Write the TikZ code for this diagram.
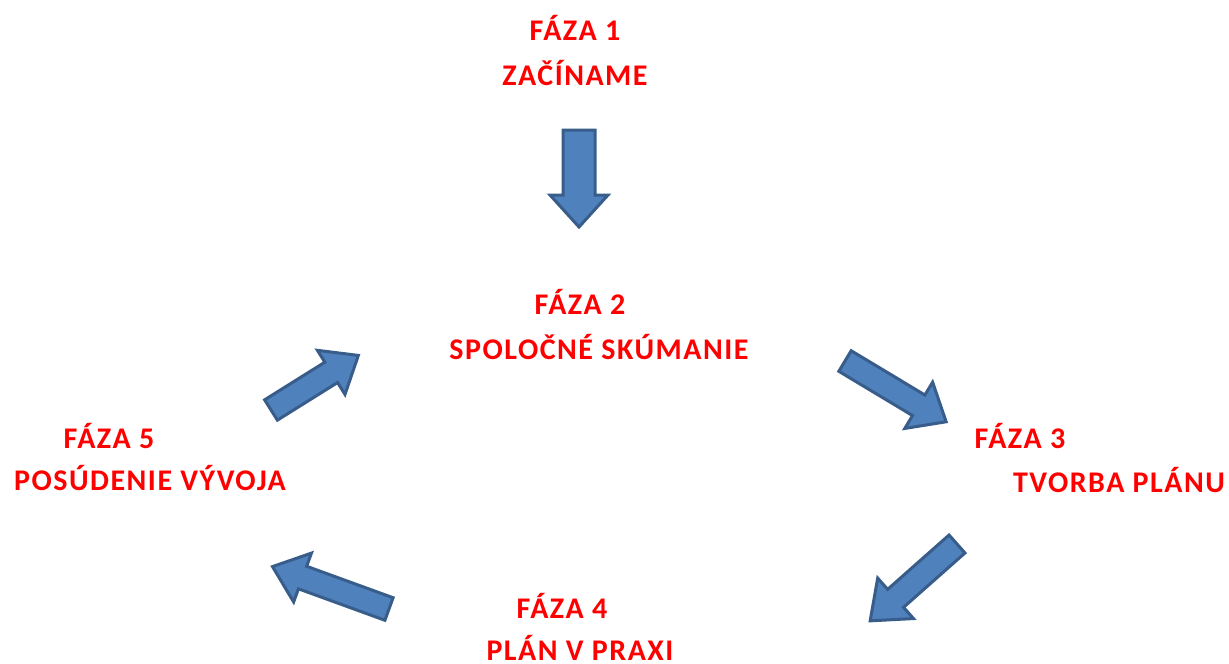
\documentclass[tikz,border=0pt]{standalone}
\usepackage{fontspec}
\setmainfont{Carlito}[LetterSpace=5]
\definecolor{arrowfill}{RGB}{79,129,189}
\definecolor{arrowline}{RGB}{56,93,138}
\definecolor{phasered}{RGB}{255,0,0}
\tikzset{
  phasetext/.style={text=phasered, font=\fontsize{30}{36}\selectfont\bfseries, inner sep=0pt, anchor=center},
  blockarrow/.style={fill=arrowfill, draw=arrowline, line width=3pt, line join=miter}
}
% #1 tail centre, #2 angle, #3 length, #4 shaft half width, #5 head half width, #6 head length, #7 name
\newcommand{\myblockarrow}[7]{%
  \begin{scope}[shift={#1}, rotate=#2]
    \draw[blockarrow] (0,-#4) -- ({#3-#6},-#4) -- ({#3-#6},-#5) -- (#3,0) -- ({#3-#6},#5) -- ({#3-#6},#4) -- (0,#4) -- cycle;
    \coordinate (#7) at (#3,0);
  \end{scope}}
\begin{document}
\begin{tikzpicture}[x=1pt,y=-1pt]
\useasboundingbox (0,0) rectangle (1229,664);
\node[phasetext] (f1a) at (575,28) {FÁZA 1};
\node[phasetext] (f1b) at (575,73) {ZAČÍNAME};
\node[phasetext] (f2a) at (580,302) {FÁZA 2};
\node[phasetext] (f2b) at (599,347) {SPOLOČNÉ SKÚMANIE};
\node[phasetext] (f3a) at (1020,436) {FÁZA 3};
\node[phasetext] (f3b) at (1119,480) {TVORBA PLÁNU};
\node[phasetext] (f4a) at (562,606) {FÁZA 4};
\node[phasetext] (f4b) at (580,648) {PLÁN V PRAXI};
\node[phasetext] (f5a) at (109,436) {FÁZA 5};
\node[phasetext] (f5b) at (150,478) {POSÚDENIE VÝVOJA};
\myblockarrow{(579,130)}{-90}{97}{16}{29}{32}{a1}
\myblockarrow{(271,410)}{32}{103}{12}{26}{32}{a2}
\myblockarrow{(845,361)}{-31}{118}{12}{27}{32}{a3}
\myblockarrow{(957,544)}{221.5}{116}{12}{27}{34}{a4}
\myblockarrow{(389,609)}{160}{124}{12}{26}{32}{a5}
\end{tikzpicture}
\end{document}
